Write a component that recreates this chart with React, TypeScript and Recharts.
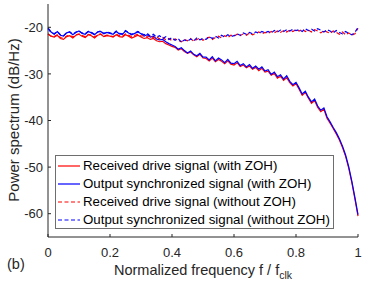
import React from 'react';
import { LineChart, Line, XAxis, YAxis, Label, Legend } from 'recharts';

const FREQ = [
  0, 0.01, 0.02, 0.03, 0.04, 0.05, 0.06, 0.07, 0.08, 0.09,
  0.1, 0.11, 0.12, 0.13, 0.14, 0.15, 0.16, 0.17, 0.18, 0.19,
  0.2, 0.21, 0.22, 0.23, 0.24, 0.25, 0.26, 0.27, 0.28, 0.29,
  0.3, 0.31, 0.32, 0.33, 0.34, 0.35, 0.36, 0.37, 0.38, 0.39,
  0.4, 0.41, 0.42, 0.43, 0.44, 0.45, 0.46, 0.47, 0.48, 0.49,
  0.5, 0.51, 0.52, 0.53, 0.54, 0.55, 0.56, 0.57, 0.58, 0.59,
  0.6, 0.61, 0.62, 0.63, 0.64, 0.65, 0.66, 0.67, 0.68, 0.69,
  0.7, 0.71, 0.72, 0.73, 0.74, 0.75, 0.76, 0.77, 0.78, 0.79,
  0.8, 0.81, 0.82, 0.83, 0.84, 0.85, 0.86, 0.87, 0.88, 0.89,
  0.9, 0.91, 0.92, 0.93, 0.94, 0.95, 0.96, 0.97, 0.98, 0.99, 1,
];

const RX_ZOH = [
  -21.4, -21.9, -22.1, -21.7, -22.4, -22.6, -22.0, -21.8, -22.3, -21.7, -21.5,
  -21.9, -22.2, -21.6, -21.8, -22.3, -21.7, -21.5, -22.0, -21.8, -21.9,
  -22.1, -21.6, -22.0, -22.1, -21.6, -21.9, -22.3, -22.0, -21.7, -22.1,
  -22.4, -22.2, -22.6, -22.4, -22.9, -23.1, -23.0, -23.5, -23.8, -24.1,
  -24.3, -24.9, -24.6, -25.2, -25.6, -25.3, -25.9, -26.3, -25.8, -26.6,
  -26.7, -27.2, -26.6, -27.4, -26.9, -27.3, -27.8, -27.2, -27.9, -28.1,
  -27.6, -28.4, -28.1, -28.7, -28.3, -29.0, -28.6, -29.3, -28.8, -29.6,
  -29.4, -30.3, -29.9, -30.9, -30.5, -31.4, -30.8, -31.9, -32.6, -32.1,
  -33.3, -34.6, -34.0, -35.2, -36.3, -35.7, -37.2, -38.1, -37.6, -39.5,
  -40.6, -41.7, -42.9, -44.2, -45.8, -47.7, -50.2, -53.3, -56.8, -60.5,
];

const OUT_ZOH = [
  -20.1, -21.0, -21.5, -20.9, -21.7, -21.9, -21.2, -21.0, -21.6, -21.1, -20.8,
  -21.3, -21.5, -20.9, -21.2, -21.6, -21.0, -20.9, -21.4, -21.1, -21.3,
  -21.5, -20.9, -21.4, -21.5, -20.8, -21.2, -21.6, -21.3, -21.0, -21.4,
  -21.9, -21.6, -22.1, -21.9, -22.5, -22.7, -22.6, -23.1, -23.5, -23.8,
  -24.1, -24.7, -24.4, -25.0, -25.5, -25.1, -25.8, -26.1, -25.6, -26.4,
  -26.4, -27.0, -26.3, -27.2, -26.6, -27.0, -27.6, -26.9, -27.7, -27.8,
  -27.3, -28.2, -27.8, -28.5, -28.0, -28.8, -28.3, -29.0, -28.5, -29.4,
  -29.1, -30.1, -29.6, -30.6, -30.2, -31.1, -30.4, -31.6, -32.3, -31.8,
  -33.0, -34.3, -33.7, -35.0, -36.0, -35.4, -36.9, -37.8, -37.3, -39.2,
  -40.3, -41.5, -42.6, -43.9, -45.5, -47.4, -49.9, -53.0, -56.5, -60.2,
];

const RX_NOZOH = [
  -21.5, -21.9, -22.0, -21.6, -22.2, -22.4, -21.9, -21.7, -22.1, -21.6, -21.4,
  -21.8, -22.0, -21.5, -21.7, -22.1, -21.6, -21.4, -21.9, -21.7, -21.8,
  -22.0, -21.5, -21.8, -21.9, -21.4, -21.7, -22.0, -21.7, -21.5, -21.9,
  -21.8, -22.1, -21.7, -22.3, -22.0, -22.5, -22.2, -22.7, -22.4, -22.9,
  -22.5, -22.8, -23.1, -22.6, -22.9, -22.4, -23.0, -22.6, -22.3, -22.8,
  -22.4, -22.1, -22.6, -22.2, -21.9, -22.3, -21.8, -22.2, -21.7, -21.9,
  -21.5, -21.8, -21.4, -21.7, -21.2, -21.6, -21.3, -21.0, -21.4, -21.1,
  -21.3, -20.9, -21.2, -20.8, -21.1, -20.7, -21.0, -20.6, -20.9, -20.5,
  -20.8, -20.4, -20.9, -20.6, -21.0, -20.5, -20.8, -21.2, -20.7, -21.0,
  -21.3, -20.8, -21.1, -21.5, -21.0, -21.6, -21.2, -21.7, -21.4, -20.2,
];

const OUT_NOZOH = [
  -20.3, -21.1, -21.4, -20.9, -21.6, -21.8, -21.2, -21.0, -21.5, -21.0, -20.8,
  -21.2, -21.4, -20.9, -21.1, -21.5, -21.0, -20.8, -21.3, -21.0, -21.2,
  -21.4, -20.8, -21.3, -21.4, -20.7, -21.1, -21.5, -21.2, -20.9, -21.3,
  -21.6, -21.3, -21.9, -21.5, -22.1, -21.8, -22.4, -22.0, -22.6, -22.2,
  -22.8, -22.4, -23.2, -22.7, -23.0, -22.5, -22.9, -22.3, -22.7, -22.4,
  -22.6, -22.0, -22.4, -21.9, -22.3, -21.7, -22.1, -21.6, -22.0, -21.8,
  -21.4, -21.7, -21.2, -21.5, -21.1, -21.4, -21.0, -21.3, -20.9, -21.2,
  -20.9, -21.2, -20.7, -21.0, -20.6, -20.9, -20.5, -20.8, -20.4, -20.7,
  -20.5, -20.9, -20.3, -20.7, -20.4, -20.8, -20.3, -20.6, -21.0, -20.5,
  -20.8, -21.2, -20.7, -21.1, -21.4, -20.9, -21.3, -21.6, -21.1, -20.0,
];

const X_TICKS = [0, 0.2, 0.4, 0.6, 0.8, 1];
const Y_TICKS = [-60, -50, -40, -30, -20];

const SERIES = [
  { key: 'rxZoh', name: 'Received drive signal (with ZOH)', color: '#ff0000', dash: undefined as string | undefined },
  { key: 'outZoh', name: 'Output synchronized signal (with ZOH)', color: '#0000ff', dash: undefined as string | undefined },
  { key: 'rxNoZoh', name: 'Received drive signal (without ZOH)', color: '#ff0000', dash: '4 2.5' },
  { key: 'outNoZoh', name: 'Output synchronized signal (without ZOH)', color: '#0000ff', dash: '4 2.5' },
];

const data = FREQ.map((f, i) => ({
  f,
  rxZoh: RX_ZOH[i],
  outZoh: OUT_ZOH[i],
  rxNoZoh: RX_NOZOH[i],
  outNoZoh: OUT_NOZOH[i],
}));

const FONT = '"Liberation Sans", Arial, Helvetica, sans-serif';
const AX = '#262626';

const XLabel = () => (
  <g>
    <text x={203} y={275} textAnchor="middle" fontSize={14.5} fill={AX} fontFamily={FONT}>
      Normalized frequency f / f
      <tspan fontSize={10.5} dy={4}>clk</tspan>
    </text>
    <text x={7} y={269} fontSize={14.5} fill={AX} fontFamily={FONT}>(b)</text>
  </g>
);

const YLabel = () => (
  <text
    x={18.5}
    y={120}
    textAnchor="middle"
    fontSize={15}
    fill={AX}
    fontFamily={FONT}
    transform="rotate(-90, 18.5, 120)"
  >
    Power spectrum (dB/Hz)
  </text>
);

const LegendBox = () => (
  <div
    style={{
      width: 277,
      height: 71,
      border: '1px solid #6e6e6e',
      background: '#fff',
      fontFamily: FONT,
      fontSize: 13.3,
      color: '#000',
      boxSizing: 'content-box',
      paddingTop: 1,
    }}
  >
    {SERIES.map((s) => (
      <div key={s.key} style={{ display: 'flex', alignItems: 'center', height: 18, whiteSpace: 'nowrap' }}>
        <svg width={27} height={18} style={{ flex: 'none' }}>
          <line x1={2} y1={9} x2={24} y2={9} stroke={s.color} strokeWidth={1.2} strokeDasharray={s.dash} />
        </svg>
        <span style={{ lineHeight: '18px' }}>{s.name}</span>
      </div>
    ))}
  </div>
);

export default function App() {
  return (
    <div style={{ position: 'absolute', left: 0, top: 0, width: 365, height: 285, background: '#fff' }}>
      <LineChart width={365} height={285} data={data} margin={{ top: 4, right: 7, bottom: 18, left: 0 }}>
        <XAxis
          dataKey="f"
          type="number"
          domain={[0, 1]}
          ticks={X_TICKS}
          xAxisId={0}
          height={30}
          tickSize={-3}
          tickMargin={14}
          stroke={AX}
          tick={{ fill: AX, fontSize: 13, fontFamily: FONT }}
          axisLine={{ stroke: AX }}
          tickLine={{ stroke: AX }}
        >
          <Label content={XLabel} />
        </XAxis>
        <XAxis
          dataKey="f"
          type="number"
          domain={[0, 1]}
          ticks={X_TICKS}
          xAxisId="top"
          orientation="top"
          height={0}
          tickSize={-3}
          tickFormatter={() => ''}
          stroke={AX}
          axisLine={{ stroke: AX }}
          tickLine={{ stroke: AX }}
        />
        <YAxis
          type="number"
          domain={[-65, -15]}
          ticks={Y_TICKS}
          yAxisId={0}
          width={48}
          tickSize={-3}
          tickMargin={8}
          stroke={AX}
          tick={{ fill: AX, fontSize: 13, fontFamily: FONT }}
          axisLine={{ stroke: AX }}
          tickLine={{ stroke: AX }}
        >
          <Label content={YLabel} />
        </YAxis>
        <YAxis
          type="number"
          domain={[-65, -15]}
          ticks={Y_TICKS}
          yAxisId="right"
          orientation="right"
          width={0}
          tickSize={-3}
          tickFormatter={() => ''}
          stroke={AX}
          axisLine={{ stroke: AX }}
          tickLine={{ stroke: AX }}
        />
        {SERIES.map((s) => (
          <Line
            key={s.key}
            dataKey={s.key}
            name={s.name}
            xAxisId={0}
            yAxisId={0}
            type="linear"
            stroke={s.color}
            strokeWidth={1.2}
            strokeDasharray={s.dash}
            dot={false}
            activeDot={false}
            isAnimationActive={false}
          />
        ))}
        <Legend
          layout="vertical"
          align="center"
          verticalAlign="middle"
          content={LegendBox}
          wrapperStyle={{ left: 55, top: 155, width: 280, height: 74 }}
        />
      </LineChart>
    </div>
  );
}
